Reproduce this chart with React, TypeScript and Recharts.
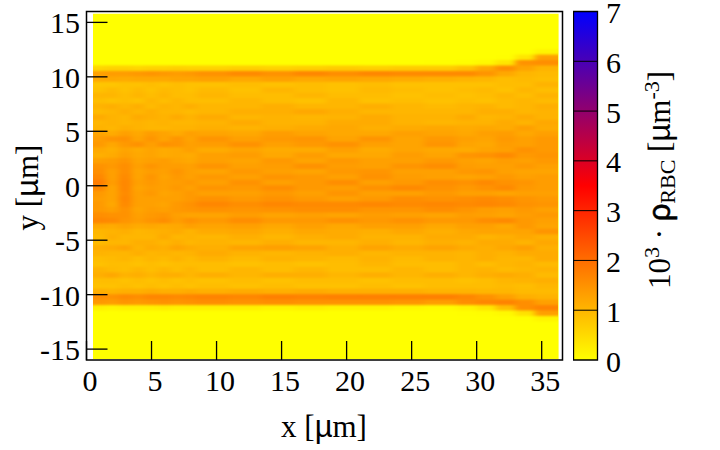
import React from "react";
import {
  ScatterChart, Scatter, XAxis, YAxis, ReferenceArea, ReferenceLine, Label,
  BarChart, Bar,
} from "recharts";

const xTicks = [0, 5, 10, 15, 20, 25, 30, 35];
const yTicks = [-15, -10, -5, 0, 5, 10, 15];
const paletteTicks = [0, 1, 2, 3, 4, 5, 6, 7];
const paletteInnerLines = [1, 2, 3, 4, 5, 6];
const paletteStops = [
  { offset: "0%", color: "#0000ff" },
  { offset: "50%", color: "#ff0000" },
  { offset: "100%", color: "#ffff00" },
];

const columnCentres = [1, 2, 3, 4, 5, 6, 7, 8, 9.75, 12.25, 14.75, 17.25, 19.75, 22.25, 24.75, 27.25, 29.25, 30.75, 32.25, 33.75, 35.4];
const columnWidths = [1, 1, 1, 1, 1, 1, 1, 1, 2.5, 2.5, 2.5, 2.5, 2.5, 2.5, 2.5, 2.5, 1.5, 1.5, 1.5, 1.5, 1.8];
const rowCentres = [12.75, 12.25, 11.75, 11.25, 10.75, 10.25, 9.75, 9.25, 8.75, 8.25, 7.75, 7.25, 6.75, 6.25, 5.75, 5.25, 4.75, 4.25, 3.75, 3.25, 2.75, 2.25, 1.75, 1.25, 0.75, 0.25, -0.25, -0.75, -1.25, -1.75, -2.25, -2.75, -3.25, -3.75, -4.25, -4.75, -5.25, -5.75, -6.25, -6.75, -7.25, -7.75, -8.25, -8.75, -9.25, -9.75, -10.25, -10.75, -11.25, -11.75, -12.25, -12.75, -13.25];
const rowHeight = 0.5;

const densityRows = [
  [0,0,0,0,0,0,0,0,0,0,0,0,0,0,0,0,0,0,0,0,0],
  [0,0,0,0,0,0,0,0,0,0,0,0,0,0,0,0,0,0,0,0,0.15],
  [0,0,0,0,0,0,0,0,0,0,0,0,0,0,0,0,0,0,0.02,0.35,1.3],
  [0,0,0,0,0,0,0,0,0,0,0,0,0,0,0,0.02,0.03,0.1,0.35,1.5,1.55],
  [0.55,0.6,0.6,0.55,0.6,0.6,0.65,0.6,0.6,0.65,0.6,0.65,0.7,0.65,0.7,0.7,0.85,1.2,1.55,1.25,1.05],
  [1.3,1.35,1.35,1.4,1.45,1.4,1.35,1.4,1.5,1.6,1.5,1.65,1.55,1.65,1.6,1.6,1.6,1.45,1.2,1.0,0.95],
  [1.2,1.2,1.15,1.2,1.2,1.2,1.25,1.25,1.3,1.2,1.3,1.2,1.25,1.2,1.15,1.1,1.05,1.0,0.9,0.95,0.9],
  [0.8,0.8,0.85,0.85,0.9,0.85,0.9,0.85,0.85,0.9,0.85,0.9,0.85,0.9,0.85,0.85,0.85,0.85,0.9,0.9,1.05],
  [0.85,0.95,0.85,0.95,0.85,0.95,0.9,0.85,0.95,0.85,1.0,0.9,0.85,0.95,0.9,0.85,0.9,0.95,0.85,1.0,0.9],
  [1.0,1.0,0.9,1.0,0.9,1.0,0.9,0.9,1.0,0.9,0.9,1.0,0.9,0.9,0.85,0.9,0.85,0.9,1.0,0.9,1.05],
  [0.9,0.85,0.9,0.85,1.0,0.9,1.0,0.9,0.9,1.0,0.9,0.85,1.0,0.85,0.9,0.85,0.9,0.85,0.95,1.0,0.95],
  [1.05,1.1,1.0,1.1,0.95,1.05,1.0,1.1,1.0,1.0,1.1,1.0,1.0,1.1,1.0,0.95,1.0,1.05,0.95,1.0,1.1],
  [0.95,1.0,1.1,1.0,1.1,1.0,1.0,0.95,1.0,1.1,1.1,1.2,1.1,1.0,1.0,1.0,1.0,1.1,1.1,1.0,1.05],
  [1.15,1.05,1.0,1.15,1.1,1.05,1.15,1.05,1.15,1.0,1.05,1.0,1.05,1.15,1.05,1.05,1.15,1.0,1.05,1.15,1.05],
  [1.0,1.05,1.0,1.05,1.0,1.05,1.0,1.0,1.05,1.15,1.05,1.05,1.15,1.15,1.05,1.0,1.05,1.05,1.15,1.05,1.2],
  [1.05,1.0,1.1,1.05,1.0,1.0,1.05,1.05,1.1,1.05,1.1,1.15,1.2,1.1,1.15,1.2,1.15,1.2,1.15,1.3,1.15],
  [1.25,1.15,1.3,1.2,1.35,1.25,1.15,1.3,1.25,1.2,1.35,1.25,1.2,1.2,1.3,1.25,1.2,1.3,1.35,1.2,1.3],
  [1.35,1.45,1.5,1.25,1.45,1.25,1.45,1.25,1.45,1.3,1.4,1.45,1.25,1.45,1.25,1.4,1.3,1.25,1.4,1.3,1.4],
  [1.4,1.2,1.4,1.5,1.3,1.5,1.45,1.3,1.35,1.5,1.3,1.4,1.5,1.3,1.25,1.45,1.25,1.2,1.35,1.3,1.4],
  [1.2,1.1,1.25,1.15,1.25,1.15,1.2,1.3,1.15,1.25,1.15,1.15,1.3,1.15,1.25,1.2,1.15,1.25,1.3,1.5,1.4],
  [1.1,1.15,1.3,1.2,1.25,1.15,1.2,1.15,1.3,1.35,1.2,1.35,1.2,1.2,1.35,1.25,1.45,1.5,1.6,1.4,1.45],
  [1.3,1.35,1.45,1.25,1.3,1.35,1.25,1.2,1.3,1.25,1.4,1.25,1.4,1.3,1.3,1.4,1.3,1.25,1.35,1.3,1.4],
  [1.5,1.4,1.55,1.3,1.45,1.35,1.35,1.3,1.45,1.3,1.35,1.5,1.35,1.3,1.45,1.55,1.35,1.3,1.3,1.4,1.3],
  [1.55,1.3,1.55,1.25,1.35,1.3,1.45,1.3,1.25,1.4,1.3,1.25,1.4,1.45,1.3,1.3,1.4,1.45,1.3,1.25,1.25],
  [1.65,1.3,1.6,1.25,1.45,1.25,1.4,1.3,1.4,1.3,1.45,1.4,1.3,1.5,1.35,1.3,1.25,1.3,1.4,1.3,1.35],
  [1.8,1.35,1.65,1.3,1.4,1.3,1.35,1.4,1.3,1.5,1.3,1.4,1.55,1.3,1.4,1.55,1.5,1.6,1.5,1.45,1.35],
  [1.65,1.25,1.65,1.25,1.35,1.3,1.4,1.3,1.45,1.4,1.55,1.4,1.35,1.5,1.6,1.5,1.4,1.5,1.6,1.4,1.35],
  [1.4,1.25,1.6,1.3,1.4,1.25,1.3,1.4,1.3,1.3,1.4,1.3,1.45,1.3,1.3,1.4,1.3,1.3,1.25,1.3,1.3],
  [1.35,1.25,1.65,1.3,1.3,1.3,1.3,1.4,1.5,1.4,1.5,1.4,1.3,1.4,1.55,1.5,1.55,1.6,1.55,1.45,1.4],
  [1.4,1.2,1.6,1.3,1.3,1.25,1.4,1.5,1.65,1.55,1.65,1.6,1.6,1.65,1.6,1.65,1.6,1.65,1.6,1.5,1.45],
  [1.4,1.3,1.5,1.25,1.35,1.3,1.4,1.45,1.5,1.45,1.5,1.55,1.55,1.45,1.45,1.55,1.45,1.35,1.3,1.4,1.3],
  [1.55,1.5,1.5,1.3,1.4,1.45,1.3,1.25,1.25,1.35,1.25,1.3,1.25,1.35,1.3,1.25,1.35,1.3,1.25,1.35,1.4],
  [1.65,1.6,1.45,1.35,1.45,1.55,1.35,1.5,1.4,1.55,1.4,1.4,1.5,1.4,1.5,1.4,1.4,1.55,1.6,1.4,1.3],
  [1.2,1.15,1.25,1.15,1.2,1.15,1.2,1.3,1.25,1.3,1.2,1.3,1.2,1.3,1.3,1.2,1.3,1.3,1.2,1.4,1.25],
  [1.0,1.05,1.1,1.0,1.05,1.1,1.15,1.05,1.15,1.2,1.1,1.2,1.15,1.1,1.2,1.1,1.2,1.25,1.25,1.25,1.45],
  [0.95,1.1,1.0,1.0,1.0,1.15,1.0,1.05,1.0,1.1,1.0,1.1,1.15,1.05,1.05,1.15,1.15,1.05,1.1,1.2,1.1],
  [0.95,1.0,1.0,1.1,1.1,1.0,1.1,1.0,1.05,1.0,1.1,1.0,1.0,1.1,1.0,1.1,1.05,1.15,1.15,1.05,1.2],
  [1.1,1.15,1.25,1.05,1.15,1.1,1.25,1.15,1.1,1.25,1.3,1.25,1.1,1.25,1.15,1.25,1.15,1.1,1.2,1.3,1.1],
  [1.05,1.0,1.0,1.1,1.0,1.05,1.0,1.05,1.15,1.05,1.0,1.05,1.1,1.0,1.05,1.05,1.0,1.1,1.05,1.15,1.15],
  [0.9,0.95,1.0,0.9,1.0,0.95,1.05,0.95,1.05,0.95,1.05,1.0,0.95,1.05,0.95,1.05,1.0,1.1,1.0,1.0,1.15],
  [0.85,0.9,0.9,0.85,0.9,0.85,0.9,0.9,0.9,0.85,0.9,0.85,0.9,1.0,0.9,0.9,1.0,0.9,1.0,1.05,0.95],
  [1.05,0.95,0.9,1.0,0.9,1.0,0.9,1.0,0.9,1.0,0.9,1.0,0.9,0.9,1.0,0.9,1.0,1.05,0.95,1.0,1.05],
  [1.1,1.2,1.05,1.1,1.0,1.1,1.1,1.0,1.1,1.0,1.1,1.1,1.0,1.1,1.0,1.1,1.0,1.1,1.15,1.1,0.95],
  [0.9,0.9,0.85,0.9,0.85,0.9,0.85,0.9,0.85,0.9,0.85,0.9,0.9,0.85,0.9,0.9,0.85,0.9,1.0,1.05,1.1],
  [0.85,0.85,0.9,0.85,0.9,0.85,0.9,0.85,0.9,0.85,0.9,0.85,0.85,0.9,0.85,0.9,0.9,0.9,0.95,0.9,1.0],
  [1.1,1.05,1.1,1.1,1.15,1.1,1.1,1.15,1.1,1.15,1.1,1.15,1.1,1.1,1.1,1.05,1.05,1.0,1.0,0.95,0.95],
  [1.55,1.5,1.6,1.55,1.65,1.65,1.6,1.65,1.7,1.65,1.75,1.7,1.75,1.75,1.75,1.75,1.65,1.5,1.3,1.1,1.05],
  [1.4,1.35,1.45,1.4,1.45,1.5,1.45,1.5,1.55,1.5,1.55,1.5,1.5,1.5,1.45,1.35,1.55,1.65,1.7,1.55,1.3],
  [0.2,0.15,0.2,0.2,0.2,0.25,0.2,0.2,0.2,0.2,0.15,0.2,0.15,0.15,0.1,0.05,0.15,0.35,0.9,1.55,1.7],
  [0,0,0,0,0,0,0,0,0,0,0,0,0,0,0,0,0.01,0.03,0.08,0.4,1.3],
  [0,0,0,0,0,0,0,0,0,0,0,0,0,0,0,0,0,0,0,0.02,0.15],
  [0,0,0,0,0,0,0,0,0,0,0,0,0,0,0,0,0,0,0,0,0],
  [0,0,0,0,0,0,0,0,0,0,0,0,0,0,0,0,0,0,0,0,0],
];

const serif = "'Liberation Serif', serif";
const greek = "'Liberation Sans', sans-serif";

const plot = { left: 86.5, right: 562.5, top: 11.5, bottom: 360 };
const xDomain: [number, number] = [0, 36.6];
const yDomain: [number, number] = [-16, 16];
const pxPerX = (plot.right - plot.left) / (xDomain[1] - xDomain[0]);
const pxPerY = (plot.bottom - plot.top) / (yDomain[1] - yDomain[0]);

function densityColor(v: number) {
  const g = Math.round(255 * Math.max(0, 1 - v / 3.5));
  return `rgb(255,${g},0)`;
}

const cells = rowCentres.flatMap((y, r) =>
  columnCentres.map((x, c) => ({ x, y, w: columnWidths[c], v: densityRows[r][c] }))
);

function HeatCell(props: any) {
  const { cx, cy, payload } = props;
  const w = payload.w * pxPerX;
  const h = rowHeight * pxPerY;
  return (
    <rect x={cx - w / 2 - 0.5} y={cy - h / 2 - 0.5} width={w + 1} height={h + 1} fill={densityColor(payload.v)} stroke="none" />
  );
}

function XTick(props: any) {
  return (
    <text x={props.x + 3.5} y={391} textAnchor="middle" fontFamily={serif} fontSize={30} fill="#000">
      {props.payload.value}
    </text>
  );
}

function YTick(props: any) {
  return (
    <text x={80} y={props.y + 11} textAnchor="end" fontFamily={serif} fontSize={30} fill="#000">
      {props.payload.value}
    </text>
  );
}

const XTitle = () => (
  <text x={324} y={437} textAnchor="middle" fontFamily={serif} fontSize={31} fill="#000">
    x [<tspan fontFamily={greek}>µ</tspan>m]
  </text>
);

const YTitle = () => (
  <text transform="translate(38 187.5) rotate(-90)" textAnchor="middle" fontFamily={serif} fontSize={31} fill="#000">
    y [<tspan fontFamily={greek}>µ</tspan>m]
  </text>
);

const CbTitle = () => (
  <text transform="translate(97 180) rotate(-90)" textAnchor="middle" fontFamily={serif} fontSize={31} fill="#000">
    10<tspan fontSize={22} dy={-11}>3</tspan>
    <tspan dy={11}> · </tspan>
    <tspan fontFamily={greek} stroke="#000" strokeWidth={0.6}>ρ</tspan>
    <tspan fontSize={22} dy={5}>RBC</tspan>
    <tspan dy={-5}> [</tspan>
    <tspan fontFamily={greek}>µ</tspan>m
    <tspan fontSize={22} dy={-11}>-3</tspan>
    <tspan dy={11}>]</tspan>
  </text>
);

const barData = [{ name: "scale", top: 7 }];

export default function App() {
  return (
    <div style={{ position: "absolute", left: 0, top: 0, width: 720, height: 450, background: "#fff" }}>
      <style>{`.heat-layer{filter:url(#heatBlur);}`}</style>
      <div style={{ position: "absolute", left: 0, top: 0 }}>
        <ScatterChart width={720} height={450} margin={{ left: 26.5, right: 157.5, top: 11.5, bottom: 40 }}>
          <defs>
            <filter id="heatBlur" filterUnits="userSpaceOnUse" x={93} y={13.5} width={465} height={345.5} colorInterpolationFilters="sRGB">
              <feGaussianBlur stdDeviation="3.2 0.9" />
              <feComponentTransfer>
                <feFuncA type="linear" slope={1000} />
              </feComponentTransfer>
            </filter>
          </defs>
          <XAxis
            type="number" dataKey="x" domain={xDomain} ticks={xTicks} height={50}
            allowDataOverflow interval={0} tickSize={-19} tickMargin={19}
            axisLine={false} tickLine={{ stroke: "#000", strokeWidth: 1.3 }} tick={<XTick />}
          >
            <Label content={<XTitle />} />
          </XAxis>
          <YAxis
            type="number" dataKey="y" domain={yDomain} ticks={yTicks} width={60}
            allowDataOverflow interval={0} tickSize={-21} tickMargin={21}
            axisLine={false} tickLine={{ stroke: "#000", strokeWidth: 1.3 }} tick={<YTick />}
          >
            <Label content={<YTitle />} />
          </YAxis>
          <ReferenceArea x1={0.5} x2={36.3} y1={-15.9} y2={15.8} fill="#ffff00" fillOpacity={1} stroke="none" zIndex={50} />
          <Scatter data={cells} shape={<HeatCell />} isAnimationActive={false} className="heat-layer" zIndex={100} />
          <ReferenceArea x1={0} x2={36.6} y1={-16} y2={16} fill="none" stroke="#000" strokeWidth={1.5} zIndex={700} />
        </ScatterChart>
      </div>
      <div style={{ position: "absolute", left: 573, top: 0 }}>
        <BarChart width={147} height={450} data={barData} barCategoryGap={0} margin={{ left: 0.5, right: 82.5, top: 11.5, bottom: 90 }}>
          <defs>
            <linearGradient id="paletteGradient" x1="0" y1="0" x2="0" y2="1">
              {paletteStops.map((s) => (
                <stop key={s.offset} offset={s.offset} stopColor={s.color} />
              ))}
            </linearGradient>
          </defs>
          <XAxis dataKey="name" hide />
          <YAxis
            orientation="right" type="number" domain={[0, 7]} ticks={paletteTicks} width={40}
            interval={0} axisLine={false} tickLine={false}
            tick={(p: any) => <text x={33} y={p.y + 11.5} fontFamily={serif} fontSize={30} fill="#000">{p.payload.value}</text>}
          >
            <Label content={<CbTitle />} />
          </YAxis>
          <Bar dataKey="top" fill="url(#paletteGradient)" stroke="#000" strokeWidth={1.3} isAnimationActive={false} />
          {paletteInnerLines.map((v) => (
            <ReferenceLine key={v} y={v} stroke="#000" strokeWidth={1} />
          ))}
        </BarChart>
      </div>
    </div>
  );
}
